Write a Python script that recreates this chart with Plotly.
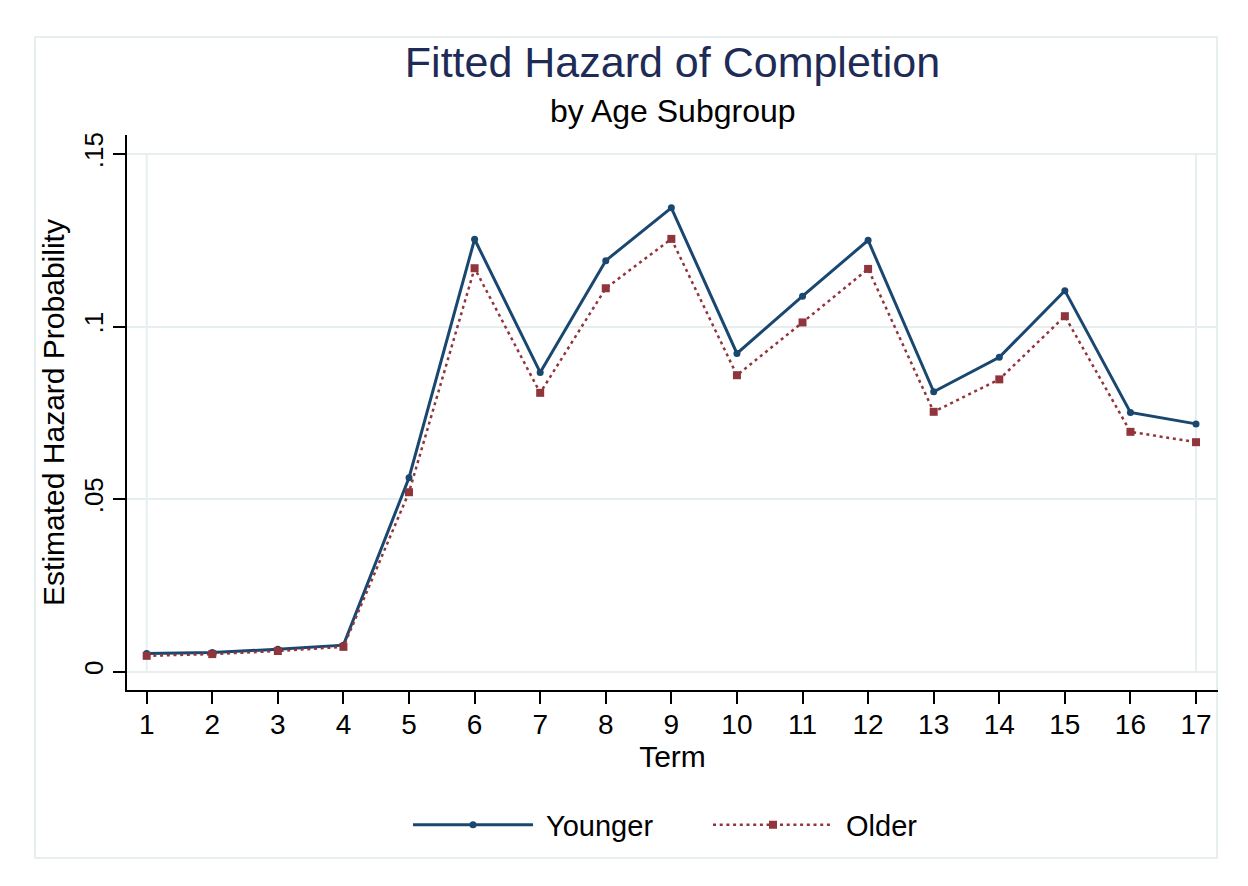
import plotly.graph_objects as go

terms = list(range(1, 18))
younger = [0.0053, 0.0056, 0.0065, 0.0077, 0.0562, 0.1253, 0.0867, 0.1191, 0.1344,
           0.0922, 0.1088, 0.1250, 0.0811, 0.0911, 0.1104, 0.0751, 0.0718]
older = [0.0046, 0.0051, 0.0060, 0.0072, 0.0520, 0.1169, 0.0808, 0.1111, 0.1254,
         0.0859, 0.1012, 0.1167, 0.0753, 0.0847, 0.1030, 0.0695, 0.0665]
y_tickvals = [0, 0.05, 0.1, 0.15]
y_ticktext = ["0", ".05", ".1", ".15"]

navy = "#1a476f"
maroon = "#90353b"
grid = "#e6eef0"
font = "Liberation Sans, Arial, sans-serif"

# page body adds an 8px margin, so work in screen pixels and shift back
OFF = 8
L, R, T, B = 127 - OFF, 1218 - OFF, 135 - OFF, 690 - OFF
W, H = R - L, B - T
px = lambda x: (x - OFF - L) / W
py = lambda y: (B - (y - OFF)) / H

fig = go.Figure()
fig.add_trace(go.Scatter(x=terms, y=younger, name="\u00a0Younger", mode="lines+markers",
                         line=dict(color=navy, width=3),
                         marker=dict(symbol="circle", size=7, color=navy)))
fig.add_trace(go.Scatter(x=terms, y=older, name="\u00a0Older", mode="lines+markers",
                         line=dict(color=maroon, width=2.5, dash="3px,3.7px"),
                         marker=dict(symbol="square", size=8, color=maroon)))

shapes = [
    # graph region border
    dict(type="rect", xref="paper", yref="paper", x0=px(35), x1=px(1217), y0=py(858), y1=py(37),
         line=dict(color=grid, width=2), layer="below"),
]
for xv in (terms[0], terms[-1]):
    shapes.append(dict(type="line", xref="x", yref="y", x0=xv, x1=xv, y0=0, y1=0.15,
                       line=dict(color=grid, width=2), layer="below"))

fig.update_layout(
    width=1248, height=886,
    margin=dict(l=L, r=1248 - R, t=T, b=886 - B),
    paper_bgcolor="white", plot_bgcolor="white",
    font=dict(family=font, color="black", size=29),
    title=dict(text="Fitted Hazard of Completion", x=0.5, xref="paper", xanchor="center",
               y=1 - (62 - OFF) / 886, yref="container", yanchor="middle",
               font=dict(size=43, color="#1e2b57", family=font)),
    annotations=[
        dict(text="by Age Subgroup", x=0.5, xref="paper", y=py(111), yref="paper",
             xanchor="center", yanchor="middle", showarrow=False,
             font=dict(size=32, color="black", family=font)),
    ],
    shapes=shapes,
    legend=dict(orientation="h", x=px(708), xanchor="center", y=py(825), yanchor="middle",
                font=dict(size=29, family=font), itemwidth=120, entrywidth=165,
                traceorder="normal"),
    showlegend=True,
)

fig.update_xaxes(range=[0.70, 17.335], tickvals=terms, ticks="outside", ticklen=12, tickwidth=2,
                 tickcolor="black", showline=True, linecolor="black", linewidth=2,
                 showgrid=False, zeroline=False, tickfont=dict(size=28), ticklabelstandoff=-4,
                 title=dict(text="Term", font=dict(size=30), standoff=0))
fig.update_yaxes(range=[-0.0053, 0.1555], tickvals=y_tickvals, ticktext=y_ticktext,
                 ticks="outside", ticklen=12, tickwidth=2, tickcolor="black",
                 showline=True, linecolor="black", linewidth=2,
                 showgrid=True, gridcolor=grid, gridwidth=2, zeroline=False,
                 tickangle=-90, tickfont=dict(size=26),
                 title=dict(text="Estimated Hazard Probability", font=dict(size=30), standoff=5))

fig.write_html("out.html")
